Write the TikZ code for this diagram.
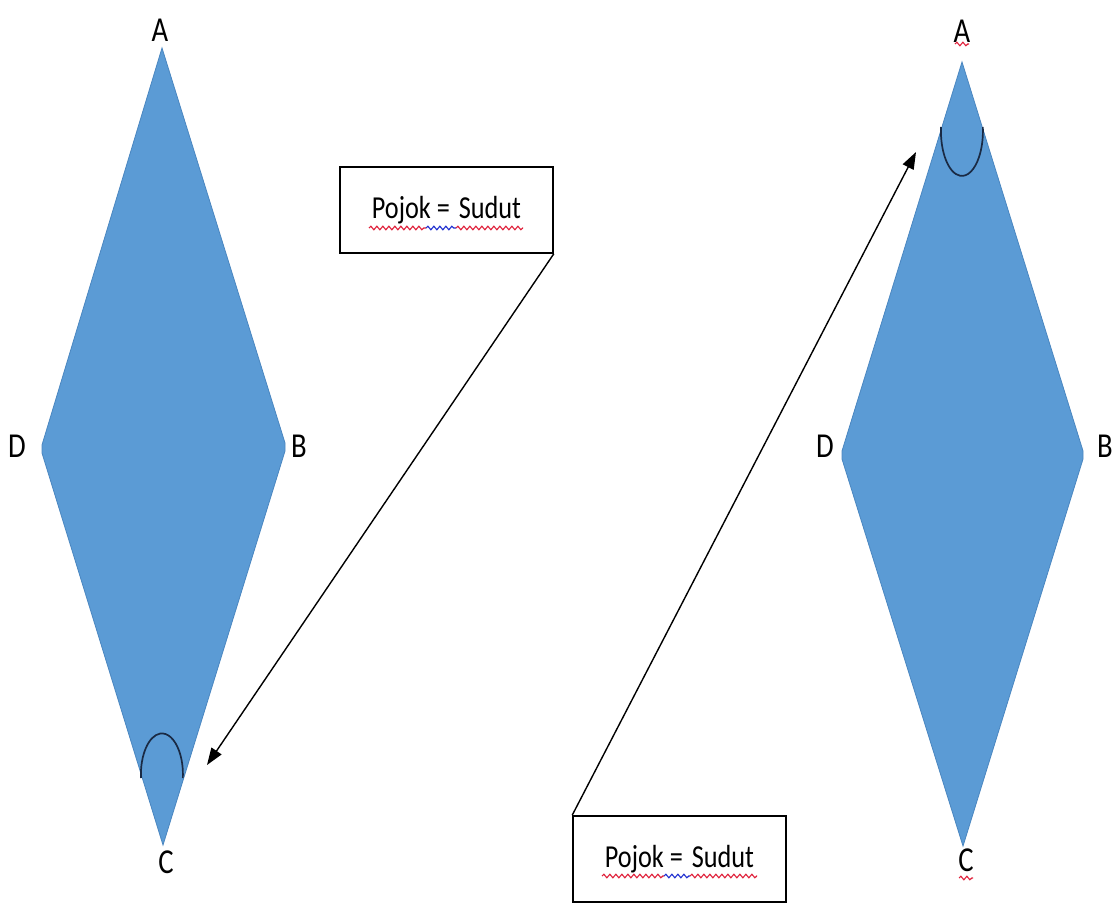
\documentclass[tikz,border=0pt]{standalone}
\usepackage{fontspec}
\setmainfont{Carlito}
\newfontfamily\lblfont[FakeStretch=0.82]{Carlito}
\newfontfamily\boxfont[FakeStretch=0.82]{Carlito}
\usetikzlibrary{arrows.meta,decorations.pathmorphing}
\definecolor{rfill}{HTML}{5B9BD5}
\definecolor{redge}{HTML}{4A86C0}
\definecolor{arccol}{HTML}{1A2A44}
\definecolor{sqred}{HTML}{E0203A}
\definecolor{sqblue}{HTML}{2030D0}
\begin{document}
\begin{tikzpicture}[x=1pt,y=-1pt,
  rh/.style={fill=rfill,draw=redge,line width=0.8pt,line join=miter},
  lbl/.style={font=\lblfont\fontsize{35}{35}\selectfont,inner sep=0pt},
  box/.style={draw=black,line width=1.6pt,fill=white,minimum width=213pt,minimum height=86pt,inner sep=0pt,font=\boxfont\fontsize{32}{32}\selectfont},
  arr/.style={line width=1.4pt,-{Triangle[length=17pt,width=12pt]}},
  ang/.style={line width=1.7pt,draw=arccol},
  squig/.style={decorate,decoration={snake,amplitude=1.8pt,segment length=6pt},line width=1.1pt}]
\useasboundingbox (0,0) rectangle (1118,909);
% left rhombus
\coordinate (LA) at (162,48);
\coordinate (LBt) at (285,443);
\coordinate (LBb) at (285,451);
\coordinate (LC) at (163,845);
\coordinate (LDb) at (42,453);
\coordinate (LDt) at (42,445);
\draw[rh] (LA) -- (LBt) -- (LBb) -- (LC) -- (LDb) -- (LDt) -- cycle;
% right rhombus
\coordinate (RA) at (962,62);
\coordinate (RBt) at (1083,451);
\coordinate (RBb) at (1083,459);
\coordinate (RC) at (963,846);
\coordinate (RDb) at (842,459);
\coordinate (RDt) at (842,451);
\draw[rh] (RA) -- (RBt) -- (RBb) -- (RC) -- (RDb) -- (RDt) -- cycle;
% angle marks
\draw[ang] (141,778) arc[start angle=185,end angle=-5,x radius=21pt,y radius=41pt];
\draw[ang] (941,127) arc[start angle=175,end angle=365,x radius=21pt,y radius=45pt];
% labels
\node[lbl] (lA) at (160,30) {A};
\node[lbl] (lB) at (299,446) {B};
\node[lbl] (lC) at (166,862) {C};
\node[lbl] (lD) at (17,446) {D};
\node[lbl] (rA) at (962,31) {A};
\node[lbl] (rB) at (1105,446) {B};
\node[lbl] (rC) at (966,860) {C};
\node[lbl] (rD) at (825,446) {D};
\draw[squig,sqred] (955,44) -- (969,44);
\draw[squig,sqred] (959,878) -- (973,878);
% boxes
\node[box] (b1) at (446.5,210) {Pojok =\hspace{9pt}Sudut};
\node[box] (b2) at (679.5,859) {Pojok =\hspace{9pt}Sudut};
\draw[squig,sqred] (369,228) -- (426,228);
\draw[squig,sqblue] (426,228) -- (456,228);
\draw[squig,sqred] (456,228) -- (523,228);
\draw[squig,sqred] (602,876) -- (664,876);
\draw[squig,sqblue] (664,876) -- (690,876);
\draw[squig,sqred] (690,876) -- (757,876);
% arrows
\coordinate (t1) at (207,765);
\coordinate (t2) at (916,152);
\draw[arr] (b1.south east) -- (t1);
\draw[arr] (b2.north west) -- (t2);
\end{tikzpicture}
\end{document}
